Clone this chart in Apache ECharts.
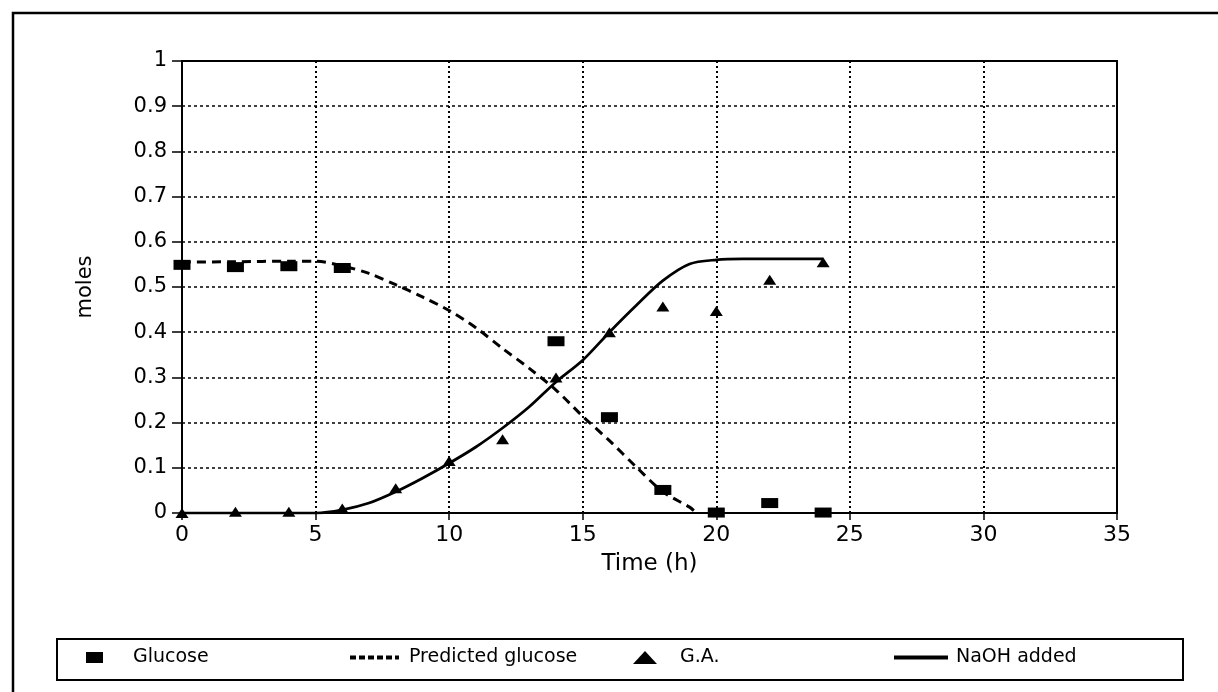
<!DOCTYPE html>
<html>
<head>
<meta charset="utf-8">
<title>Glucose, G.A. and NaOH vs time</title>
<script src="https://cdn.jsdelivr.net/npm/echarts@6/dist/echarts.min.js"></script>
<style>
  html, body { margin: 0; padding: 0; background: #fff; }
  #chart { width: 1218px; height: 692px; }
</style>
</head>
<body>
<div id="chart"></div>
<script>
// Measured glucose (moles) at sampling times (h)
const glucoseTime = [0, 2, 4, 6, 14, 16, 18, 20, 22, 24];
const glucoseMoles = [0.549, 0.544, 0.546, 0.542, 0.380, 0.212, 0.051, 0.001, 0.022, 0.001];

// Model prediction of glucose
const predictedTime = [0, 2, 4, 5, 6, 7, 8, 9, 10, 11, 12, 13, 14, 15, 16, 17, 18, 19, 19.2];
const predictedMoles = [0.555, 0.556, 0.557, 0.557, 0.547, 0.530, 0.505, 0.478, 0.448, 0.410, 0.364, 0.320, 0.272, 0.214, 0.160, 0.102, 0.047, 0.013, 0.003];

// Measured gluconic acid (G.A.)
const gaTime = [0, 2, 4, 6, 8, 10, 12, 14, 16, 18, 20, 22, 24];
const gaMoles = [0.000, 0.003, 0.003, 0.010, 0.055, 0.115, 0.163, 0.300, 0.400, 0.457, 0.447, 0.516, 0.555];

// Cumulative NaOH added
const naohTime = [0, 5, 6, 7, 8, 9, 10, 11, 12, 13, 14, 15, 16, 17, 18, 19, 20, 21, 24];
const naohMoles = [0, 0, 0.007, 0.022, 0.047, 0.077, 0.110, 0.146, 0.188, 0.235, 0.290, 0.338, 0.400, 0.459, 0.514, 0.551, 0.560, 0.562, 0.562];

// Axis ticks
const xTicks = { min: 0, max: 35, interval: 5 };
const yTicks = { min: 0, max: 1, interval: 0.1 };

const FONT = 'DejaVu Sans';
const zip = (xs, ys) => xs.map((x, i) => [x, ys[i]]);

const chart = echarts.init(document.getElementById('chart'), null, { renderer: 'canvas' });

const legendBase = {
  orient: 'horizontal',
  padding: 0,
  itemGap: 0,
  selectedMode: false,
  top: 648,
  textStyle: { fontFamily: FONT, fontSize: 19, color: '#000' }
};
const legendText = (pad) => Object.assign({}, legendBase.textStyle, { padding: [0, 0, 0, pad] });

chart.setOption({
  backgroundColor: '#fff',
  animation: false,
  grid: { left: 182, top: 61, right: 101, bottom: 179, containLabel: false },
  xAxis: [{
    type: 'value',
    min: xTicks.min, max: xTicks.max, interval: xTicks.interval,
    name: 'Time (h)',
    nameLocation: 'middle',
    nameGap: 40,
    nameTextStyle: { fontFamily: FONT, fontSize: 23, color: '#000' },
    axisLine: { show: true, onZero: false, lineStyle: { color: '#000', width: 2 } },
    axisTick: { show: true, inside: false, length: 7, lineStyle: { color: '#000', width: 1.5 } },
    axisLabel: { fontFamily: FONT, fontSize: 22, color: '#000', margin: 11 },
    splitLine: { show: true, lineStyle: { color: '#000', width: 2, type: [2, 3] } }
  }, {
    type: 'value', position: 'top',
    min: xTicks.min, max: xTicks.max,
    axisLine: { show: true, onZero: false, lineStyle: { color: '#000', width: 2 } },
    axisTick: { show: false }, axisLabel: { show: false }, splitLine: { show: false }
  }],
  yAxis: [{
    type: 'value',
    min: yTicks.min, max: yTicks.max, interval: yTicks.interval,
    name: 'moles',
    nameLocation: 'middle',
    nameGap: 86,
    nameRotate: 90,
    nameTextStyle: { fontFamily: FONT, fontSize: 21, color: '#000' },
    axisLine: { show: true, onZero: false, lineStyle: { color: '#000', width: 2 } },
    axisTick: { show: true, inside: false, length: 10, lineStyle: { color: '#000', width: 1.5 } },
    axisLabel: { fontFamily: FONT, fontSize: 21, color: '#000', margin: 15 },
    splitLine: { show: true, lineStyle: { color: '#000', width: 1.5, type: [3, 3] } }
  }, {
    type: 'value', position: 'right',
    min: yTicks.min, max: yTicks.max,
    axisLine: { show: true, onZero: false, lineStyle: { color: '#000', width: 2 } },
    axisTick: { show: false }, axisLabel: { show: false }, splitLine: { show: false }
  }],
  legend: [
    Object.assign({}, legendBase, {
      left: 86, data: [{ name: 'Glucose', icon: 'rect' }],
      itemWidth: 17, itemHeight: 11,
      textStyle: legendText(25)
    }),
    Object.assign({}, legendBase, {
      left: 348, data: [{ name: 'Predicted glucose', icon: 'inherit' }],
      itemWidth: 49, itemHeight: 12,
      itemStyle: { opacity: 0 },
      lineStyle: { width: 4, type: [6, 3] },
      textStyle: legendText(5)
    }),
    Object.assign({}, legendBase, {
      left: 633, data: [{ name: 'G.A.', icon: 'triangle' }],
      itemWidth: 24, itemHeight: 13,
      textStyle: legendText(18)
    }),
    Object.assign({}, legendBase, {
      left: 892, data: [{ name: 'NaOH added', icon: 'inherit' }],
      itemWidth: 54, itemHeight: 12,
      itemStyle: { opacity: 0 },
      lineStyle: { width: 4 },
      textStyle: legendText(3)
    })
  ],
  graphic: [
    {
      type: 'rect', z: -1, silent: true,
      shape: { x: 13, y: 13, width: 1240, height: 720 },
      style: { fill: 'none', stroke: '#000', lineWidth: 2.5 }
    },
    {
      type: 'rect', silent: true,
      shape: { x: 57, y: 639, width: 1126, height: 41 },
      style: { fill: 'none', stroke: '#000', lineWidth: 2 }
    }
  ],
  series: [
    {
      name: 'Glucose',
      type: 'scatter',
      symbol: 'rect',
      symbolSize: [17, 10],
      itemStyle: { color: '#000', opacity: 1 },
      data: zip(glucoseTime, glucoseMoles),
      z: 5
    },
    {
      name: 'Predicted glucose',
      type: 'line',
      symbol: 'none',
      smooth: 0.3,
      lineStyle: { color: '#000', width: 3, type: [9, 6] },
      itemStyle: { color: '#000' },
      data: zip(predictedTime, predictedMoles),
      z: 4
    },
    {
      name: 'G.A.',
      type: 'scatter',
      symbol: 'triangle',
      symbolSize: [13, 10],
      itemStyle: { color: '#000', opacity: 1 },
      data: zip(gaTime, gaMoles),
      z: 5
    },
    {
      name: 'NaOH added',
      type: 'line',
      symbol: 'none',
      smooth: 0.3,
      lineStyle: { color: '#000', width: 2.75 },
      itemStyle: { color: '#000' },
      data: zip(naohTime, naohMoles),
      z: 4
    }
  ]
});
</script>
</body>
</html>
